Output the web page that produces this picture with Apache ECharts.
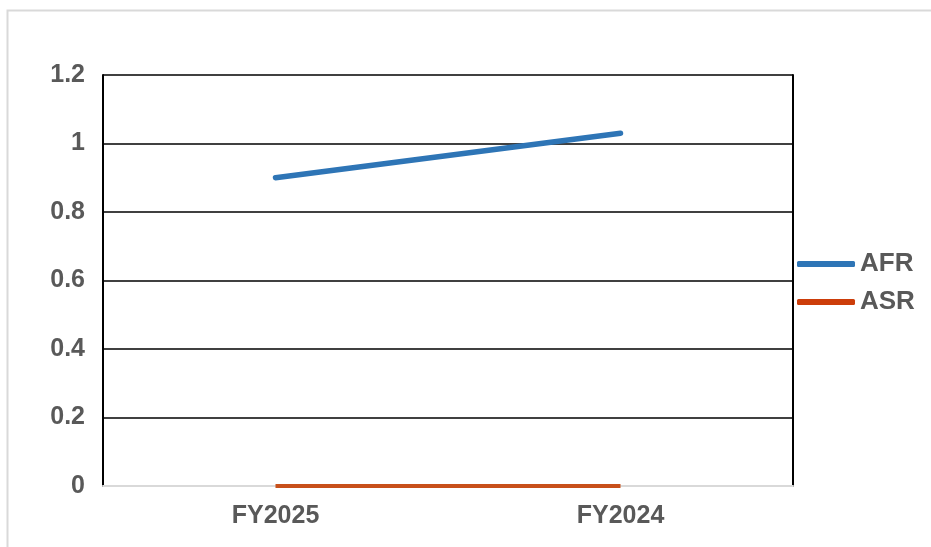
<!DOCTYPE html>
<html><head><meta charset="utf-8">
<script src="https://cdn.jsdelivr.net/npm/echarts@6/dist/echarts.min.js"></script>
<style>html,body{margin:0;padding:0;background:#fff}#c{width:931px;height:547px}</style>
</head><body><div id="c"></div>
<script>
const categories = ['FY2025', 'FY2024'];
const afr = [0.9, 1.03];
const asr = [0, 0];
const yTicks = [0, 0.2, 0.4, 0.6, 0.8, 1, 1.2];

const chart = echarts.init(document.getElementById('c'));
const font = { fontFamily: 'Liberation Sans, Arial, sans-serif', fontWeight: 'bold', fontSize: 25, color: '#595959' };
chart.setOption({
  animation: false,
  graphic: [{ type: 'rect', shape: { x: 7.5, y: 10.5, width: 940, height: 560 }, style: { fill: 'none', stroke: '#d9d9d9', lineWidth: 2 }, silent: true }],
  grid: { left: 103, right: 138, top: 75, bottom: 61 },
  legend: {
    orient: 'vertical', left: 792, top: 246, itemWidth: 58, itemHeight: 6, itemGap: 12,
    icon: 'roundRect',
    textStyle: Object.assign({}, font, { fontSize: 26, padding: [0, 0, 0, 0] }),
    data: ['AFR', 'ASR']
  },
  xAxis: {
    type: 'category', data: categories, boundaryGap: true,
    axisLine: { show: true, lineStyle: { color: '#d9d9d9', width: 2 } },
    axisTick: { show: false },
    axisLabel: Object.assign({}, font, { margin: 18 })
  },
  yAxis: [{
    type: 'value', min: 0, max: 1.2, interval: 0.2,
    axisLine: { show: true, lineStyle: { color: '#000', width: 2 } },
    axisTick: { show: false },
    splitLine: { show: true, lineStyle: { color: '#000', width: 1.5 } },
    axisLabel: Object.assign({}, font, { margin: 18, formatter: v => yTicks.includes(+v.toFixed(1)) ? String(+v.toFixed(1)) : '' })
  }, {
    type: 'value', min: 0, max: 1.2, interval: 0.2, position: 'right',
    axisLine: { show: true, lineStyle: { color: '#000', width: 2 } },
    axisTick: { show: false }, axisLabel: { show: false }, splitLine: { show: false }
  }],
  series: [
    { name: 'AFR', type: 'line', data: afr, symbol: 'none', lineStyle: { color: '#2e75b6', width: 5.5, cap: 'round' }, itemStyle: { color: '#2e75b6' } },
    { name: 'ASR', type: 'line', data: asr, symbol: 'none', lineStyle: { color: '#c8501a', width: 4 }, itemStyle: { color: '#cc3d0a' } }
  ]
});
</script></body></html>
